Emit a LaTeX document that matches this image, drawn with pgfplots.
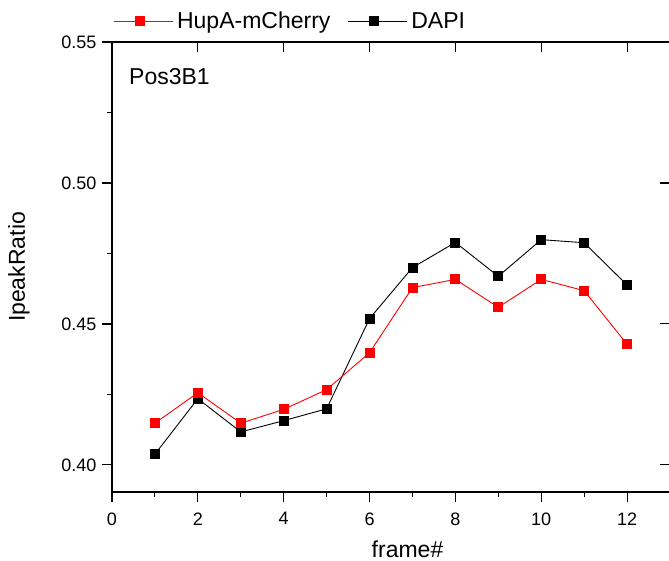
\documentclass[border=0pt]{standalone}
\usepackage{pgfplots}
\pgfplotsset{compat=1.18}
\usepackage{fontspec}
\setmainfont{Liberation Sans}
\begin{document}
\begin{tikzpicture}
\useasboundingbox (-112pt,-69pt) rectangle (557pt,492pt);
\pgfplotsset{
  common/.style={
    scale only axis, width=558pt, height=450pt,
    at={(0pt,0pt)}, anchor=south west,
    xmin=0, xmax=13, ymin=0.3904, ymax=0.55,
    xtick={0,2,4,6,8,10,12},
    ytick={0.40,0.45,0.50,0.55},
    axis line style={line width=1.2pt,-},
    major tick length=10pt, minor tick length=5pt,
    every tick/.style={line width=1.1pt, black},
  }
}
\begin{axis}[common,
  axis x line*=bottom, axis y line*=left,
  tick align=outside,
  minor x tick num=1, minor y tick num=1,
  /pgf/number format/assume math mode=true,
  yticklabel style={/pgf/number format/fixed, /pgf/number format/fixed zerofill, /pgf/number format/precision=2, font=\fontsize{18}{20}\selectfont, xshift=-2pt},
  xticklabel style={font=\fontsize{18}{20}\selectfont, yshift=-7pt},
  scaled y ticks=false,
  xlabel={frame\#}, ylabel={IpeakRatio},
  label style={font=\fontsize{23}{26}\selectfont},
  xlabel style={at={(axis description cs:0.5296,-0.127)}, anchor=center},
  ylabel style={at={(axis description cs:-0.1667,0.5)}, anchor=center},
  legend image code/.code={\path (0pt,0pt) -- (59pt,0pt);\draw[#1, mark repeat=2, mark phase=2] plot coordinates {(0pt,0pt) (26pt,0pt) (52pt,0pt)};},
  legend columns=2,
  legend style={at={(axis description cs:0.0018,1.0467)}, anchor=west, draw=none, fill=none, inner sep=0pt,
    nodes={inner sep=4pt},
    font=\fontsize{23}{26}\selectfont,
    /tikz/every even column/.append style={column sep=13pt}},
]
\addlegendimage{red, line width=0.9pt, mark=square*, mark size=4.5pt, mark options={fill=red, draw=red}}
\addlegendentry{HupA-mCherry}
\addplot[black, line width=0.9pt, mark=square*, mark size=4.5pt, mark options={fill=black, draw=black}] coordinates {
(1,0.4038)(2,0.4235)(3,0.4117)(4,0.4157)(5,0.4199)(6,0.4519)(7,0.4700)(8,0.4789)(9,0.4669)(10,0.4799)(11,0.4788)(12,0.4638)};
\addlegendentry{DAPI}
\addplot[red, line width=0.9pt, mark=square*, mark size=4.5pt, mark options={fill=red, draw=red}, forget plot] coordinates {
(1,0.4148)(2,0.4256)(3,0.4148)(4,0.4197)(5,0.4267)(6,0.4398)(7,0.4629)(8,0.4658)(9,0.4559)(10,0.4658)(11,0.4618)(12,0.4428)};
\node[anchor=base west, inner sep=0pt, font=\fontsize{23}{26}\selectfont] at (axis description cs:0.0305,0.906) {Pos3B1};
\end{axis}
\begin{axis}[common,
  axis x line*=top, axis y line*=right,
  tick align=inside,
  xticklabels={}, yticklabels={},
]
\end{axis}
\end{tikzpicture}
\end{document}
